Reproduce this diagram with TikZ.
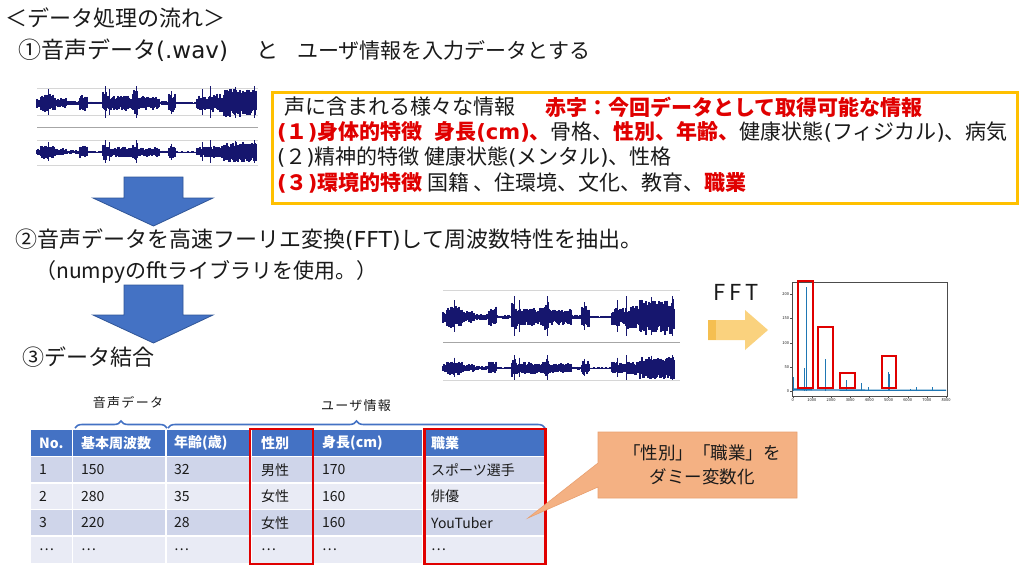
\documentclass[tikz,border=0pt]{standalone}
\usepackage{fontspec}
\setmainfont{Noto Sans CJK JP}
\newfontfamily\latf{DejaVu Sans}
\newcommand{\lat}[1]{{\latf #1}}
\usetikzlibrary{decorations.pathreplacing}
\definecolor{txt}{HTML}{1A1A1A}
\definecolor{redc}{HTML}{E00000}
\definecolor{boxor}{HTML}{FFC000}
\definecolor{blueA}{HTML}{4472C4}
\definecolor{blueE}{HTML}{2F5597}
\definecolor{rowA}{HTML}{CFD5EA}
\definecolor{rowB}{HTML}{E9EBF5}
\definecolor{callf}{HTML}{F4B183}
\definecolor{calld}{HTML}{E9A070}
\definecolor{arrL}{HTML}{FAD27E}
\definecolor{arrD}{HTML}{F5BF50}
\definecolor{wavec}{HTML}{16166E}
\definecolor{fftb}{HTML}{1F77B4}
\definecolor{gridg}{HTML}{D6D6D6}
\newcommand{\wavepanel}[5]{%
  \pgfmathsetseed{#5}%
  \draw[wavec, line width=0.8pt] (#1,#2) -- ({#1+#3},#2);
  \foreach \ta/\tb/\ev in {0/0.02/0.3, 0.02/0.09/0.55, 0.09/0.14/0.3, 0.14/0.2/0.15, 0.2/0.235/0.5, 0.235/0.3/0.08, 0.3/0.32/0.7, 0.32/0.44/0.45, 0.44/0.46/0.75, 0.46/0.56/0.4, 0.56/0.6/0.12, 0.6/0.635/0.55, 0.635/0.73/0.05, 0.73/0.8/0.45, 0.8/0.85/0.55, 0.85/1/0.85}{%
    \pgfmathtruncatemacro{\ia}{\ta*#3}%
    \pgfmathtruncatemacro{\ib}{\tb*#3-1}%
    \foreach \i in {\ia,...,\ib}{%
      \pgfmathsetmacro{\up}{\ev*#4*(0.45+0.55*rnd)}%
      \pgfmathsetmacro{\dn}{\ev*#4*(0.45+0.55*rnd)}%
      \draw[wavec, line width=1.2pt] ({#1+\i},{#2-\up}) -- ({#1+\i},{#2+\dn});
    }%
  }%
  \foreach \ts/\sa in {0.05/0.8, 0.31/1.0, 0.33/0.8, 0.45/1.0, 0.61/0.7, 0.75/0.8, 0.79/1.0, 0.9/0.95, 0.99/1.0}{%
    \draw[wavec, line width=0.9pt] ({#1+\ts*#3},{#2-\sa*#4}) -- ({#1+\ts*#3},{#2+\sa*#4*0.9});
  }%
}
\begin{document}
\begin{tikzpicture}[x=1pt,y=-1pt,
  title/.style={anchor=west, inner sep=0pt, text=txt, font=\fontsize{22}{26}\selectfont},
  info/.style={anchor=west, inner sep=0pt, text=txt, font=\fontsize{21}{24}\selectfont},
  hdr/.style={anchor=west, inner sep=0pt, text=white, font=\fontsize{14}{16}\selectfont\bfseries},
  cell/.style={anchor=west, inner sep=0pt, text=txt, font=\fontsize{14}{16}\selectfont},
  blk/.style={fill=blueA, draw=blueE, line width=0.8pt},
  redbox/.style={draw=redc, line width=2.6pt},
  brc/.style={draw=blueA, line width=1.6pt, decorate, decoration={brace, amplitude=7pt}},
  small/.style={inner sep=0pt, text=txt, font=\fontsize{13}{15}\selectfont\addfontfeature{LetterSpace=10}},
  tick/.style={inner sep=0.3pt, text=txt, font=\fontsize{4}{5}\selectfont}]
\fill[white] (0,0) rectangle (1024,576);
\useasboundingbox (0,0) rectangle (1024,576);

% titles
\node[title] (t1) at (5,18) {＜データ処理の流れ＞};
\node[title, font=\fontsize{23}{26}\selectfont] (t2a) at (18,50) {①音声データ\lat{(.wav)}};
\node[title] (t2b) at (256,50) {と};
\node[title, font=\fontsize{21}{26}\selectfont] (t2c) at (297,50) {ユーザ情報を入力データとする};
\node[title] (t3) at (15,240) {②音声データを高速フーリエ変換\lat{(FFT)}して周波数特性を抽出。};
\node[title, font=\fontsize{21}{26}\selectfont] (t4) at (35,272) {（numpyのfftライブラリを使用。）};
\node[title] (t5) at (22,357) {③データ結合};

% left waveforms
\foreach \yy in {88,115}{\draw[gridg, line width=0.5pt] (37,\yy) -- (258,\yy);}
\draw[gray!70, line width=0.8pt] (37,127) -- (258,127);
\foreach \yy in {140,165}{\draw[gridg, line width=0.5pt] (37,\yy) -- (258,\yy);}
\wavepanel{37}{103}{220}{17}{11}
\wavepanel{37}{152}{220}{12}{23}

% right waveforms
\foreach \yy in {290,380}{\draw[gridg, line width=0.6pt] (443,\yy) -- (680,\yy);}
\draw[gray!70, line width=0.8pt] (443,342) -- (680,342);
\wavepanel{443}{317}{232}{21}{11}
\wavepanel{443}{368}{232}{13}{23}

% blue arrows
\draw[blk] (124,177) -- (183,177) -- (183,198) -- (213,198) -- (153.5,226) -- (93,198) -- (124,198) -- cycle;
\draw[blk] (124,285) -- (183,285) -- (183,315) -- (213,315) -- (153.5,343) -- (93,315) -- (124,315) -- cycle;

% info box
\draw[boxor, line width=3pt] (272,92) rectangle (1017,203);
\node[info] (i1) at (284,107) {声に含まれる様々な情報};
\node[info, text=redc, font=\fontsize{21}{24}\selectfont\bfseries] (i1r) at (545,107) {赤字：今回データとして取得可能な情報};
\node[info] (i2) at (277,132) {{\color{redc}\bfseries \lat{(}１\lat{)}身体的特徴\hspace{12pt}身長\lat{(cm)}、}骨格、{\color{redc}\bfseries 性別、年齢、}健康状態\lat{(}フィジカル\lat{)}、病気};
\node[info] (i3) at (277,157) {\lat{(}２\lat{)}精神的特徴 健康状態\lat{(}メンタル\lat{)}、性格};
\node[info] (i4) at (277,183) {{\color{redc}\bfseries \lat{(}３\lat{)}環境的特徴} 国籍 、住環境、文化、教育、{\color{redc}\bfseries 職業}};

% FFT label and arrow
\node[anchor=center, inner sep=0pt, text=txt, font=\fontsize{22}{26}\selectfont\addfontfeature{LetterSpace=18}] (fft) at (736,292) {FFT};
\fill[arrL] (708,320) -- (745,320) -- (745,310) -- (768,330) -- (745,350) -- (745,340) -- (708,340) -- cycle;
\fill[arrD] (708,320) rectangle (716,340);

% FFT chart
\draw[black!70, line width=0.4pt] (792,282) rectangle (947,396);
\foreach \v in {0,50,...,200}{
  \draw[black!70, line width=0.3pt] (792,{391-\v*0.4835}) -- (790,{391-\v*0.4835});
  \node[tick, anchor=east] at (789.5,{391-\v*0.4835}) {\v};
}
\foreach \f in {0,1000,...,8000}{
  \draw[black!70, line width=0.3pt] ({792.7+\f*0.01916},396) -- ({792.7+\f*0.01916},398);
  \node[tick, anchor=north] at ({792.7+\f*0.01916},398.5) {\f};
}
\draw[fftb, line width=1.3pt] (793,390) -- (946,390.3);
\draw[fftb, line width=1.5pt] (793,389) -- (812,389.5);
\foreach \f/\v in {50/28, 600/48, 700/215, 1700/67, 2800/22, 3600/16, 3950/9, 5000/40, 5060/35, 6150/4, 6450/9, 7300/9}{
  \draw[fftb, line width=0.7pt] ({792.7+\f*0.01916},391) -- ({792.7+\f*0.01916},{391-\v*0.4835});
}
\draw[redbox] (798,281) rectangle (813,388);
\draw[redbox] (818,327) rectangle (833,388);
\draw[redbox] (840,373) rectangle (855,388);
\draw[redbox] (882,356) rectangle (896,388);

% braces
\draw[brc] (75,428) -- (167,428);
\draw[brc] (168,428) -- (545,428);
\node[small] (b1) at (128,403) {音声データ};
\node[small] (b2) at (356,406) {ユーザ情報};

% table
\fill[blueA] (31,430) rectangle (545,456.5);
\fill[rowA] (31,456.5) rectangle (545,483);
\fill[rowB] (31,483) rectangle (545,509.5);
\fill[rowA] (31,509.5) rectangle (545,536);
\fill[rowB] (31,536) rectangle (545,562.5);
\foreach \yy in {456.5,483,509.5,536}{\draw[white, line width=1.5pt] (31,\yy) -- (545,\yy);}
\foreach \xx in {72.6,165.8,250.8,313.5,422.8}{\draw[white, line width=1.5pt] (\xx,430) -- (\xx,562.5);}
\foreach \xx/\tx [count=\c] in {39/No., 81/基本周波数, 174/年齢(歳), 261/性別, 322/身長(cm), 431/職業}{
  \node[hdr] (h\c) at (\xx,443.25) {\tx};
}
\foreach \xx/\tx [count=\c] in {39/1, 81/150, 174/32, 261/男性, 322/170, 431/スポーツ選手}{
  \node[cell] (ra\c) at (\xx,469.75) {\tx};
}
\foreach \xx/\tx [count=\c] in {39/2, 81/280, 174/35, 261/女性, 322/160, 431/俳優}{
  \node[cell] (rb\c) at (\xx,496.25) {\tx};
}
\foreach \xx/\tx [count=\c] in {39/3, 81/220, 174/28, 261/女性, 322/160, 431/YouTuber}{
  \node[cell] (rc\c) at (\xx,522.75) {\tx};
}
\foreach \xx [count=\c] in {39,81,174,261,322,431}{
  \node[cell] (rd\c) at (\xx,549.25) {…};
}
\draw[redbox] (250,429) rectangle (313,564);
\draw[redbox] (424.5,429) rectangle (545.5,564);

% callout
\draw[fill=callf, draw=calld, line width=0.6pt] (598,432) -- (797,432) -- (797,498) -- (598,498) -- (598,487) -- (528,518) -- (598,463) -- cycle;
\node[inner sep=0pt, text=txt, align=center, font=\fontsize{17.5}{24}\selectfont] (call) at (702,465) {「性別」「職業」を\\ダミー変数化};
\end{tikzpicture}
\end{document}
